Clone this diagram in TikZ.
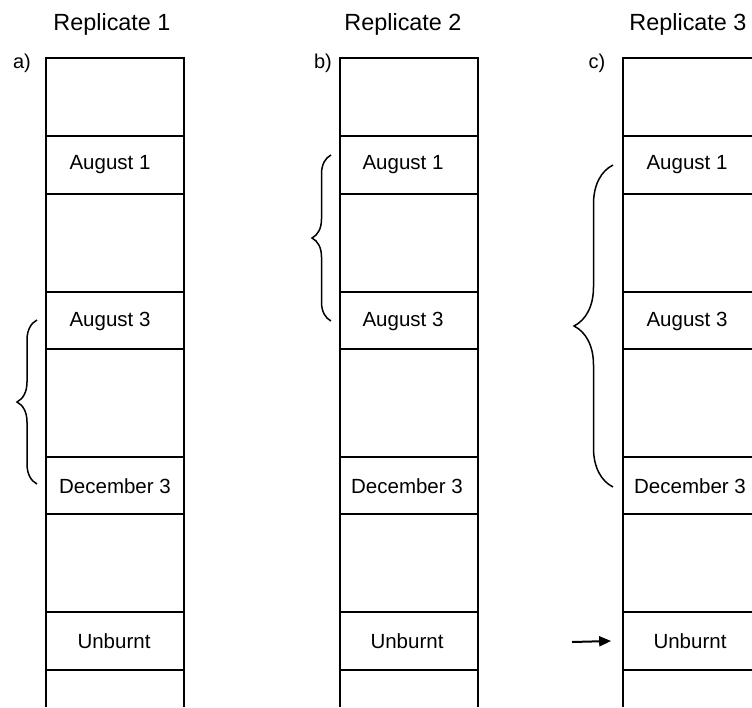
\documentclass[tikz,border=0pt]{standalone}
\usepackage{fontspec}
\setmainfont{Liberation Sans}
\usetikzlibrary{decorations.pathreplacing,arrows.meta}
\begin{document}
\begin{tikzpicture}[x=1pt,y=-1pt,
  frame/.style={line width=1.7pt},
  cell/.style={draw, line width=1.7pt, minimum width=138pt, inner sep=0pt},
  celltxt/.style={inner sep=0pt, font=\fontsize{20.5}{24}\selectfont},
  title/.style={inner sep=0pt, font=\fontsize{23.4}{27}\selectfont},
  tag/.style={inner sep=0pt, font=\fontsize{20}{24}\selectfont},
  bracket/.style={decorate, line width=1.5pt, decoration={brace, amplitude=#1}},
  pointer/.style={line width=2pt, -{Triangle[length=12pt,width=10pt]}}]
\useasboundingbox (0,0) rectangle (752,707);
\clip (0,0) rectangle (752,707);
\fill[white] (0,0) rectangle (752,707);

% titles and tags
\node[title] (t1) at (112,24) {Replicate 1};
\node[title] (t2) at (403,24) {Replicate 2};
\node[title] (t3) at (688,24) {Replicate 3};
\node[tag] (ta) at (22,63) {a)};
\node[tag] (tb) at (323,63) {b)};
\node[tag] (tc) at (597,63) {c)};

% column frames
\foreach \L in {46,340,623}{
  \draw[frame] (\L,707) -- (\L,58) -- (\L+138,58) -- (\L+138,707);
}

% cells: column 1
\node[cell, minimum height=58pt] (c1a) at (115,165) {};
\node[cell, minimum height=57pt] (c1b) at (115,320.5) {};
\node[cell, minimum height=57pt] (c1c) at (115,485.5) {};
\node[cell, minimum height=58pt] (c1d) at (115,641) {};
% cells: column 2
\node[cell, minimum height=58pt] (c2a) at (409,165) {};
\node[cell, minimum height=57pt] (c2b) at (409,320.5) {};
\node[cell, minimum height=57pt] (c2c) at (409,485.5) {};
\node[cell, minimum height=58pt] (c2d) at (409,641) {};
% cells: column 3
\node[cell, minimum height=58pt] (c3a) at (692,165) {};
\node[cell, minimum height=57pt] (c3b) at (692,320.5) {};
\node[cell, minimum height=57pt] (c3c) at (692,485.5) {};
\node[cell, minimum height=58pt] (c3d) at (692,641) {};

% texts
\node[celltxt] (x1a) at (110,165) {August 1};
\node[celltxt] (x1b) at (110,321) {August 3};
\node[celltxt] (x1c) at (115,486) {December 3};
\node[celltxt] (x1d) at (114,641) {Unburnt};
\node[celltxt] (x2a) at (403,165) {August 1};
\node[celltxt] (x2b) at (403,321) {August 3};
\node[celltxt] (x2c) at (407,486) {December 3};
\node[celltxt] (x2d) at (407,641) {Unburnt};
\node[celltxt] (x3a) at (687,165) {August 1};
\node[celltxt] (x3b) at (687,321) {August 3};
\node[celltxt] (x3c) at (690,486) {December 3};
\node[celltxt] (x3d) at (690,641) {Unburnt};

% braces
\coordinate (b1s) at (37,484);
\coordinate (b1e) at (37,320);
\draw[bracket=20pt] (b1s) -- (b1e);
\coordinate (b2s) at (331,321);
\coordinate (b2e) at (331,155);
\draw[bracket=19pt] (b2s) -- (b2e);
\coordinate (b3s) at (613,487);
\coordinate (b3e) at (613,165);
\draw[bracket=39pt] (b3s) -- (b3e);

% arrow
\coordinate (arr) at (572,642);
\draw[pointer] (arr) -- ([xshift=-11pt]c3d.west);
\end{tikzpicture}
\end{document}
